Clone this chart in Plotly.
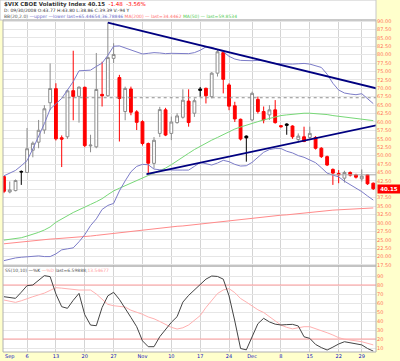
import plotly.graph_objects as go
import pandas as pd

# ---------------- data ----------------
holidays = ["2008-11-27", "2008-12-25"]
dates = [d for d in pd.bdate_range("2008-09-30", "2008-12-31").strftime("%Y-%m-%d") if d not in holidays]

prev_close = 46.72
opens = [43.77, 39.2, 39.6, 45.3, 45.0, 51.6, 54.0, 57.6, 65.7, 69.9,
         55.3, 55.6, 69.3, 67.6, 70.3, 52.9, 52.6, 68.2, 67.8, 78.9,
         73.2, 63.1, 69.8, 63.0, 60.1, 53.6, 47.7, 56.6, 63.6, 56.6,
         59.8, 61.4, 66.2, 62.6, 69.8, 70.0, 67.5, 74.5, 80.6, 71.0,
         64.8, 60.8, 55.8, 60.6, 66.7, 63.1, 62.1, 63.6, 58.9, 59.4,
         58.8, 54.8, 55.6, 55.4, 55.4, 52.2, 49.7, 45.9, 44.7, 43.3,
         45.0, 44.3, 43.1, 44.3, 41.8]
highs = [43.80, 42.3, 42.9, 45.6, 58.2, 54.2, 60.6, 65.0, 77.4, 71.5,
         56.0, 69.6, 81.17, 70.6, 70.5, 56.2, 80.5, 77.9, 89.53, 83.4,
         74.0, 70.5, 70.5, 63.5, 60.5, 53.9, 55.5, 64.5, 64.2, 61.6,
         62.6, 69.7, 69.7, 67.0, 70.4, 70.2, 74.8, 81.6, 81.0, 71.5,
         66.0, 61.0, 56.0, 69.0, 67.5, 64.6, 65.0, 66.5, 59.0, 59.6,
         59.0, 56.6, 58.6, 58.6, 55.8, 52.5, 50.0, 46.2, 45.7, 45.5,
         45.3, 44.6, 45.9, 44.5, 42.0]
lows = [38.86, 38.8, 39.4, 41.3, 44.9, 49.5, 52.2, 56.5, 63.5, 54.5,
        46.6, 55.0, 60.5, 59.8, 52.5, 51.0, 52.2, 64.6, 67.5, 77.5,
        54.2, 60.5, 62.0, 57.6, 53.0, 44.4, 46.2, 55.5, 55.8, 54.6,
        59.5, 61.0, 58.6, 61.5, 67.5, 65.5, 67.0, 73.5, 68.5, 63.5,
        60.0, 54.5, 48.2, 60.2, 62.5, 59.6, 60.6, 59.5, 58.3, 56.2,
        55.0, 53.9, 54.0, 54.6, 51.8, 49.3, 46.9, 41.3, 41.8, 42.0,
        43.8, 43.2, 42.3, 41.3, 39.8]
closes = [39.39, 39.8, 42.6, 45.14, 52.05, 53.68, 57.53, 63.92, 69.95, 54.99,
          54.9, 69.25, 67.61, 70.33, 52.97, 53.11, 69.65, 67.80, 79.13, 80.06,
          66.96, 69.96, 62.90, 59.89, 53.6, 47.73, 54.56, 63.68, 56.10, 59.98,
          61.8, 66.46, 59.83, 66.31, 69.4, 67.8, 74.5, 80.86, 72.67, 64.70,
          60.90, 54.92, 55.28, 68.51, 63.1, 60.6, 63.6, 59.8, 58.6, 59.0,
          55.6, 55.8, 54.2, 56.6, 52.2, 49.7, 47.2, 44.8, 44.3, 45.0,
          44.2, 43.6, 43.9, 41.63, 40.15]

bb_upper = [44.0, 44.8, 45.6, 47.0, 48.5, 52.0, 55.5, 59.5, 63.8, 65.5,
            67.0, 69.5, 72.0, 75.2, 75.4, 75.4, 76.5, 77.5, 79.8, 82.5,
            82.6, 82.0, 81.2, 80.6, 80.2, 80.4, 80.6, 80.5, 80.3, 80.4,
            80.3, 80.2, 80.3, 80.6, 81.3, 82.3, 82.2, 81.5, 80.9, 79.5,
            78.7, 78.3, 78.2, 78.2, 78.3, 78.2, 77.8, 77.4, 77.3, 77.2,
            77.2, 77.3, 77.4, 77.2, 76.8, 76.2, 74.2, 71.5, 69.5, 68.6,
            68.3, 68.1, 68.4, 66.9, 65.45]
bb_lower = [18.8, 19.3, 19.6, 19.8, 20.0, 20.2, 20.2, 20.0, 20.0, 20.8,
            22.0, 22.3, 22.6, 24.4, 26.5, 29.2, 31.2, 34.0, 35.2, 35.8,
            39.5, 42.5, 45.2, 46.8, 47.4, 47.3, 46.0, 45.8, 45.7, 45.7,
            45.7, 45.7, 45.7, 46.8, 48.0, 47.6, 47.2, 47.8, 48.6, 48.2,
            47.4, 46.9, 47.0, 48.0, 49.5, 51.0, 51.8, 52.1, 52.1, 51.3,
            50.8, 50.0, 49.5, 48.8, 47.9, 46.4, 44.8, 44.2, 43.7, 42.4,
            41.4, 40.3, 39.3, 38.0, 36.79]
ma50 = [24.9, 25.1, 25.3, 25.6, 26.1, 26.6, 27.2, 27.9, 28.8, 30.2,
        31.2, 32.2, 33.1, 33.9, 34.6, 35.5, 36.3, 37.2, 38.4, 39.5,
        40.3, 41.1, 41.8, 42.6, 43.4, 44.1, 44.8, 45.5, 46.3, 47.3,
        48.5, 49.6, 50.7, 51.8, 52.8, 53.7, 54.6, 55.4, 56.3, 57.2,
        57.9, 58.5, 59.1, 59.6, 60.1, 60.6, 61.1, 61.5, 61.9, 62.1,
        62.3, 62.5, 62.6, 62.6, 62.5, 62.4, 62.2, 61.9, 61.7, 61.4,
        61.2, 61.0, 60.8, 60.6, 60.4]
ma200 = [23.8, 24.0, 24.2, 24.4, 24.6, 24.8, 25.0, 25.1, 25.2, 25.3,
         25.4, 25.5, 25.7, 25.8, 26.0, 26.1, 26.3, 26.5, 26.7, 26.9,
         27.1, 27.3, 27.5, 27.7, 27.9, 28.0, 28.2, 28.4, 28.6, 28.8,
         29.0, 29.1, 29.3, 29.5, 29.7, 29.8, 30.0, 30.2, 30.4, 30.6,
         30.8, 31.0, 31.2, 31.4, 31.6, 31.7, 31.9, 32.1, 32.3, 32.4,
         32.6, 32.8, 32.9, 33.1, 33.3, 33.4, 33.6, 33.8, 33.9, 34.0,
         34.1, 34.2, 34.3, 34.4, 34.45]
stoch_k = [67.0, 66.5, 65.2, 72.0, 79.3, 80.0, 85.5, 90.4, 89.3, 70.0,
           55.9, 54.1, 63.0, 70.7, 47.0, 35.5, 34.8, 55.0, 68.0, 71.9,
           64.0, 54.5, 44.0, 33.7, 18.0, 11.5, 11.5, 22.6, 30.5, 38.5,
           44.8, 61.0, 68.5, 74.5, 80.0, 86.5, 90.0, 89.5, 86.5, 68.0,
           40.0, 9.5, 8.0, 23.0, 37.0, 43.0, 39.0, 36.5, 35.6, 36.0,
           36.3, 34.5, 22.5, 20.7, 14.0, 10.5, 7.8, 11.0, 14.5, 17.0,
           16.0, 15.0, 13.5, 9.5, 6.6]
stoch_d = [63.3, 62.0, 60.7, 62.5, 65.0, 67.0, 69.0, 71.0, 74.0, 77.0,
           76.5, 75.6, 75.0, 74.4, 74.4, 74.4, 70.0, 64.0, 58.5, 57.0,
           56.0, 55.5, 52.0, 50.0, 47.5, 44.5, 42.5, 39.5, 36.0, 33.0,
           31.1, 32.5, 35.6, 40.5, 46.0, 55.0, 63.0, 70.5, 74.5, 76.0,
           71.5, 65.0, 61.0, 57.0, 52.5, 49.5, 45.0, 40.0, 35.5, 33.0,
           31.3, 32.5, 33.7, 33.7, 31.5, 30.0, 27.0, 24.5, 21.5, 19.8,
           18.5, 18.0, 17.0, 15.5, 13.5]

# trend lines (bar index, value) and horizontal levels
upper_trend = ([18, 64.5], [89.53, 70.0])
lower_trend = ([24.7, 64.5], [44.5, 59.0])
resistance = (10, 67.2)
support = (24.7, 44.3)

tick_dates = ["2008-09-30", "2008-10-06", "2008-10-13", "2008-10-20", "2008-10-27",
              "2008-11-03", "2008-11-10", "2008-11-17", "2008-11-24", "2008-12-01",
              "2008-12-08", "2008-12-15", "2008-12-22", "2008-12-29"]
tick_text = ["Sep", "6", "13", "20", "27", "Nov", "10", "17", "24", "Dec", "8", "15", "22", "29"]
price_ticks = [17.5 + 2.5 * k for k in range(30)]
stoch_ticks = [10, 20, 30, 40, 50, 60, 70, 80, 90]

title_txt = "$VIX CBOE Volatility Index 40.15"
chg_txt = "-1.48  -3.56%"
ohlc_txt = "D: 09/30/2008 O:43.77 H:43.80 L:38.86 C:39.39 V:-94 Y"

# ---------------- figure ----------------
N = len(dates)
x = list(range(N))
pc = [prev_close] + closes[:-1]
black_idx = [i for i in x if closes[i] >= pc[i]]
red_idx = [i for i in x if closes[i] < pc[i]]
XR = [-0.17, 64.47]
FONT = "DejaVu Sans"
last = closes[-1]

fig = go.Figure()

def add_lines(xs, ys, color, width=1, dash="solid", yaxis="y"):
    fig.add_trace(go.Scatter(x=xs, y=ys, mode="lines", yaxis=yaxis,
                             line=dict(color=color, width=width, dash=dash),
                             hoverinfo="skip", showlegend=False))

add_lines(x, ma200, "#FF8A8A")
add_lines(x, ma50, "#77D877")
add_lines(x, bb_upper, "#7C7CC8")
add_lines(x, bb_lower, "#7C7CC8")
add_lines([resistance[0], XR[1]], [resistance[1]] * 2, "#909090", 1, "dot")
add_lines([support[0], XR[1]], [support[1]] * 2, "#A8A8A8", 1)

def candles(idx, up_line, up_fill, dn_line, dn_fill):
    fig.add_trace(go.Candlestick(
        x=idx, open=[opens[i] for i in idx], high=[highs[i] for i in idx],
        low=[lows[i] for i in idx], close=[closes[i] for i in idx],
        increasing=dict(line=dict(color=up_line, width=1), fillcolor=up_fill),
        decreasing=dict(line=dict(color=dn_line, width=1), fillcolor=dn_fill),
        whiskerwidth=0, showlegend=False, hoverinfo="skip"))

candles(black_idx, "#8C8C8C", "#FFFFFF", "#000000", "#000000")
candles(red_idx, "#FF0000", "#FFFFFF", "#FF0000", "#FF0000")

add_lines(*upper_trend, "#000080", 1.8)
add_lines(*lower_trend, "#000080", 1.8)

# stochastics panel
add_lines([XR[0], XR[1]], [80, 80], "#FF9C9C", 1, yaxis="y2")
add_lines([XR[0], XR[1]], [20, 20], "#FF9C9C", 1, yaxis="y2")
add_lines(x, stoch_d, "#FFB0B0", 1, yaxis="y2")
add_lines(x, stoch_k, "#444444", 1, yaxis="y2")

LOW_TOP = 86 / 332
tickvals = [dates.index(d) for d in tick_dates]
xtext = [""] + tick_text[1:]
ytext = ["" if abs(v - last) < 1.5 else f"{v:.2f}" for v in price_ticks]

fig.update_layout(
    width=400, height=361,
    margin=dict(l=3, r=24, t=20, b=9),
    paper_bgcolor="#FFFFCC", plot_bgcolor="#FFFFFF",
    font=dict(family=FONT, size=5, color="#333333"),
    boxmode="overlay",
    xaxis=dict(range=XR, anchor="y2", tickmode="array", tickvals=tickvals, ticktext=xtext,
               showgrid=True, gridcolor="#D4D4D4", gridwidth=1, zeroline=False,
               tickfont=dict(size=5, color="#1010C0"), ticks="", ticklen=0,
               rangeslider=dict(visible=False), fixedrange=True),
    yaxis=dict(domain=[LOW_TOP, 1], range=[17.2, 90.3], side="right",
               tickmode="array", tickvals=price_ticks, ticktext=ytext,
               showgrid=True, gridcolor="#E6E6E6", zeroline=False,
               tickfont=dict(size=5, color="#FF6E5A"), ticks="", anchor="x"),
    yaxis2=dict(domain=[0, LOW_TOP], range=[5.6, 101.1], side="right",
                tickmode="array", tickvals=stoch_ticks,
                showgrid=True, gridcolor="#E6E6E6", zeroline=False,
                tickfont=dict(size=5, color="#FF6E5A"), ticks="", anchor="x"),
)

# header box and panel borders
fig.add_shape(type="rect", xref="paper", yref="paper", x0=-3/373, x1=1, y0=1, y1=1 + 20/332,
              fillcolor="#FFFFFF", line=dict(color="#C8C8C8", width=1), layer="below")
for y0, y1 in [(LOW_TOP, 1), (0, LOW_TOP)]:
    fig.add_shape(type="rect", xref="paper", yref="paper", x0=0, x1=1, y0=y0, y1=y1,
                  line=dict(color="#B0B0B0", width=1), fillcolor="rgba(0,0,0,0)")

def note(text, xp, yp, size=5, **kw):
    fig.add_annotation(text=text, xref="paper", yref="paper", x=xp, y=yp, showarrow=False,
                       xanchor="left", yanchor="middle", font=dict(family=FONT, size=size), **kw)

ppx = 1 / 373
ppy = 1 / 332
note(f"<b>{title_txt}</b>  <span style='color:#FF0000'>{chg_txt}</span>", -1 * ppx, 1 + 15.5 * ppy, 5.5)
note(ohlc_txt, -1 * ppx, 1 + 9.5 * ppy, 4.5)
note("<span style='color:#555555'>BB(20,2.0)</span> <span style='color:#6A6AC8'>—upper —lower last=65.44654;36.78846</span> "
     "<span style='color:#FF7070'>MA(200) — last=34.4462</span> <span style='color:#55CC55'>MA(50) — last=59.8534</span>",
     -1 * ppx, 1 + 3.5 * ppy, 4.5)
note("<span style='color:#555555'>SS(10,10)</span> <span style='color:#333333'>—%K</span> "
     "<span style='color:#FF9C9C'>—%D</span> <span style='color:#555555'>last=6.59888;</span>"
     "<span style='color:#FF9C9C'>13.54677</span>", 0, LOW_TOP - 4 * ppy, 4.5)
# first x label, kept inside the left edge
fig.add_annotation(text=tick_text[0], xref="paper", yref="paper", x=0, y=-4.5 * ppy, showarrow=False,
                   xanchor="left", yanchor="middle", font=dict(family=FONT, size=5, color="#1010C0"))

fig.add_annotation(text=f"<b>{last:.2f}</b>", xref="paper", yref="y", x=1 + 1 * ppx, y=last,
                   showarrow=False, xanchor="left", yanchor="middle", bgcolor="#FF0000",
                   font=dict(family=FONT, size=5.5, color="#FFFFFF"), borderpad=1, width=20)

fig.write_html("out.html")
